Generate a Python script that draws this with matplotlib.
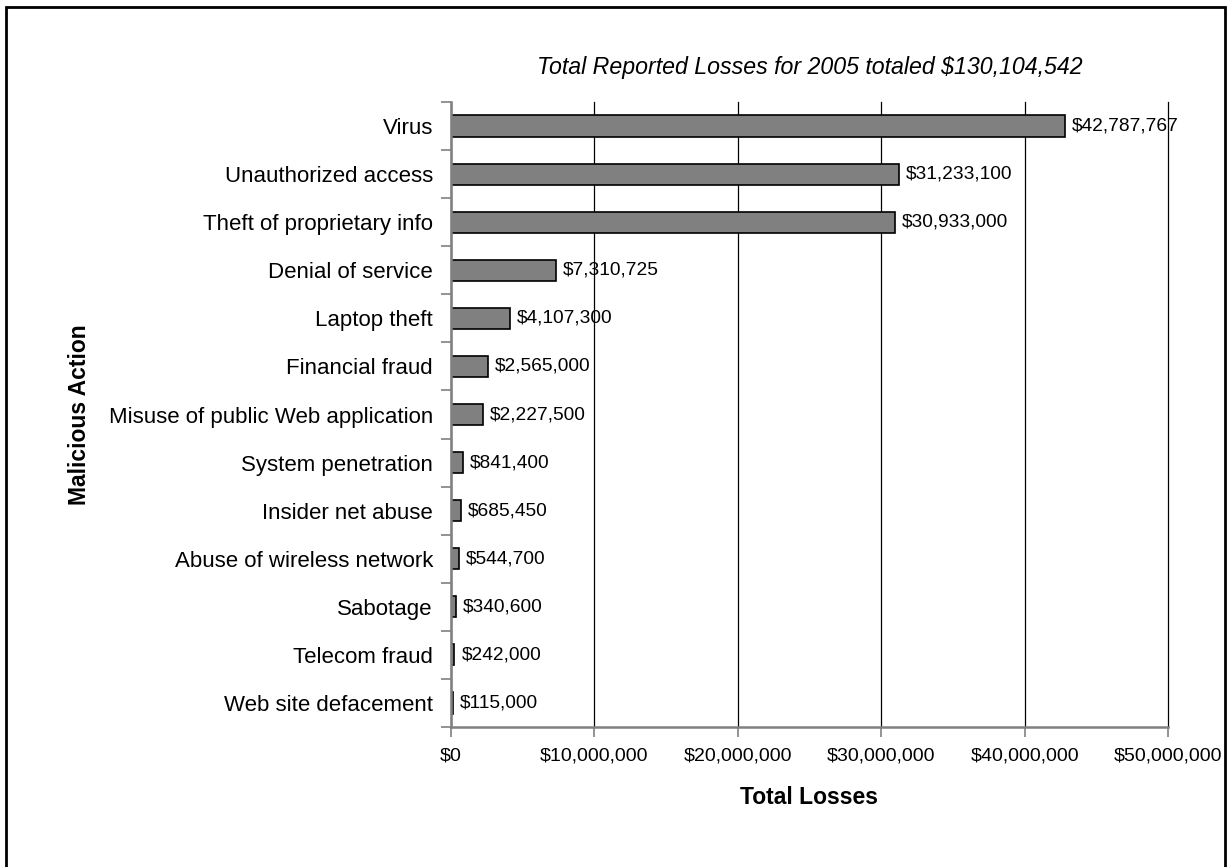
import matplotlib.pyplot as plt
import matplotlib.ticker as mticker
from matplotlib.patches import Rectangle

plt.rcParams["font.family"] = ["Liberation Sans", "DejaVu Sans"]

# data, top to bottom as in the chart
actions = [
    "Virus",
    "Unauthorized access",
    "Theft of proprietary info",
    "Denial of service",
    "Laptop theft",
    "Financial fraud",
    "Misuse of public Web application",
    "System penetration",
    "Insider net abuse",
    "Abuse of wireless network",
    "Sabotage",
    "Telecom fraud",
    "Web site defacement",
]
losses = [
    42787767, 31233100, 30933000, 7310725, 4107300, 2565000, 2227500,
    841400, 685450, 544700, 340600, 242000, 115000,
]
x_ticks = [0, 10000000, 20000000, 30000000, 40000000, 50000000]

fig = plt.figure(figsize=(12.28, 8.67), dpi=100)
ax = fig.add_axes([451 / 1228, 1 - 727 / 867, 717 / 1228, 625 / 867])

ypos = list(range(len(actions)))[::-1]
ax.barh(ypos, losses, height=0.44, color="#808080", edgecolor="black",
        linewidth=1.2, zorder=3)

for y, v in zip(ypos, losses):
    ax.annotate(f"${v:,}", xy=(v, y), xytext=(5, 0), textcoords="offset points",
                va="center", ha="left", fontsize=13.8, zorder=4)

ax.set_xlim(0, 50000000)
ax.set_ylim(-0.5, len(actions) - 0.5)
ax.set_xticks(x_ticks)
ax.xaxis.set_major_formatter(mticker.FuncFormatter(lambda v, p: f"${int(v):,}"))
ax.set_yticks(ypos)
ax.set_yticklabels(actions)
ax.set_yticks([i + 0.5 for i in range(-1, len(actions))], minor=True)

ax.tick_params(axis="y", which="major", length=0, pad=13, labelsize=16)
ax.tick_params(axis="y", which="minor", length=7, color="#808080", width=1.2)
ax.tick_params(axis="x", which="major", length=7, color="#808080", width=1.2,
               pad=8, labelsize=14)

ax.grid(True, axis="x", color="black", linewidth=0.9, zorder=0)
for gl in ax.get_xgridlines():
    gl.set_clip_on(False)  # keep the $50M line fully visible at the edge
for s in ["top", "right"]:
    ax.spines[s].set_visible(False)
for s in ["left", "bottom"]:
    ax.spines[s].set_color("#808080")
    ax.spines[s].set_linewidth(1.8)
    ax.spines[s].set_zorder(5)

ax.set_xlabel("Total Losses", fontsize=16.5, fontweight="bold", va="center")
ax.xaxis.set_label_coords(0.5, (727 - 797) / 625)
ax.set_ylabel("Malicious Action", fontsize=16.5, fontweight="bold", va="center")
ax.yaxis.set_label_coords((79 - 451) / 717, 0.5)
ax.set_title("Total Reported Losses for 2005 totaled $130,104,542",
             fontsize=16.7, style="italic", pad=20)

# outer chart border (bottom edge is cut off in the source)
fig.patches.append(Rectangle((6 / 1228, -0.1), 1219 / 1228, 1.1 - 7 / 867,
                             transform=fig.transFigure, fill=False,
                             edgecolor="black", linewidth=2))

fig.savefig("out.png", dpi=100)
